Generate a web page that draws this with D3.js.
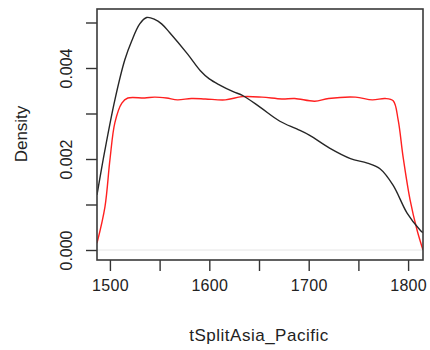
<!DOCTYPE html>
<html>
<head>
<meta charset="utf-8">
<script src="https://cdn.jsdelivr.net/npm/d3@7"></script>
<style>
  html, body { margin: 0; padding: 0; background: #ffffff; }
  svg { display: block; font-family: "Liberation Sans", Arial, sans-serif; }
</style>
</head>
<body>
<script>
// Density estimates for tSplitAsia_Pacific: posterior (black) and prior (red)
const posteriorX = [1487, 1495, 1505, 1515, 1522, 1530, 1537, 1545, 1552, 1560, 1578, 1591, 1600, 1611, 1624, 1634, 1651, 1671, 1688, 1701, 1721, 1742, 1759, 1772, 1785, 1799, 1812, 1815];
const posteriorY = [0.00121, 0.0022, 0.0033, 0.00418, 0.0046, 0.00497, 0.00511, 0.00507, 0.00497, 0.00478, 0.00431, 0.00394, 0.00376, 0.00362, 0.00348, 0.00339, 0.00314, 0.00283, 0.00266, 0.00252, 0.00224, 0.00201, 0.00191, 0.00178, 0.00142, 0.00081, 0.00044, 0.00038];

const priorX = [1487, 1495, 1500, 1505, 1512, 1518, 1535, 1545, 1557, 1568, 1582, 1596, 1616, 1633, 1653, 1673, 1686, 1706, 1720, 1747, 1764, 1777, 1785, 1790, 1795, 1802, 1809, 1815];
const priorY = [0.00015, 0.00095, 0.00198, 0.0028, 0.00323, 0.00334, 0.00334, 0.00336, 0.00334, 0.0033, 0.00333, 0.00332, 0.0033, 0.00337, 0.00336, 0.00332, 0.00333, 0.00327, 0.00333, 0.00336, 0.0033, 0.00333, 0.00328, 0.00286, 0.00204, 0.0011, 0.00044, 0.0];

const xTicks = [1500, 1550, 1600, 1650, 1700, 1750, 1800];
const xTickLabels = ["1500", "", "1600", "", "1700", "", "1800"];
const yTicks = [0, 0.001, 0.002, 0.003, 0.004, 0.005];
const yTickLabels = ["0.000", "", "0.002", "", "0.004", ""];
const xTitle = "tSplitAsia_Pacific";
const yTitle = "Density";

const W = 430, H = 350;
const box = { left: 97, right: 423, top: 9, bottom: 260 };

const svg = d3.select("body").append("svg")
  .attr("width", W).attr("height", H);
svg.append("rect").attr("width", W).attr("height", H).attr("fill", "#fff");

const x = d3.scaleLinear().domain([1487, 1815]).range([box.left, box.right]);
const y = d3.scaleLinear().domain([0, 0.005]).range([250, 22.5]);

// faint zero reference line
svg.append("line")
  .attr("x1", box.left).attr("x2", box.right)
  .attr("y1", y(0)).attr("y2", y(0))
  .attr("stroke", "#e6e6e6").attr("stroke-width", 1);

svg.append("clipPath").attr("id", "plotclip")
  .append("rect")
  .attr("x", box.left).attr("y", box.top)
  .attr("width", box.right - box.left).attr("height", box.bottom - box.top);

const line = d3.line()
  .x(d => x(d[0])).y(d => y(d[1]))
  .curve(d3.curveCatmullRom.alpha(0.5));

const g = svg.append("g").attr("clip-path", "url(#plotclip)");
g.append("path")
  .attr("d", line(priorX.map((v, i) => [v, priorY[i]])))
  .attr("fill", "none").attr("stroke", "#ff2020").attr("stroke-width", 1.4);
g.append("path")
  .attr("d", line(posteriorX.map((v, i) => [v, posteriorY[i]])))
  .attr("fill", "none").attr("stroke", "#262626").attr("stroke-width", 1.4);

// axes
const xAxis = d3.axisBottom(x).tickValues(xTicks)
  .tickSize(11).tickPadding(9)
  .tickFormat((d, i) => xTickLabels[i]);
const gx = svg.append("g").attr("transform", `translate(0,${box.bottom})`).call(xAxis);
gx.select(".domain").remove();
gx.selectAll("line").attr("stroke", "#333").attr("stroke-width", 1.4);
gx.selectAll("text").attr("fill", "#222").attr("font-size", 16)
  .attr("font-family", "Liberation Sans, Arial, sans-serif").attr("letter-spacing", 0.3);

const yAxis = d3.axisLeft(y).tickValues(yTicks)
  .tickSize(11).tickPadding(0)
  .tickFormat((d, i) => yTickLabels[i]);
const gy = svg.append("g").attr("transform", `translate(${box.left},0)`).call(yAxis);
gy.select(".domain").remove();
gy.selectAll("line").attr("stroke", "#333").attr("stroke-width", 1.4);
gy.selectAll("text")
  .attr("fill", "#222").attr("font-size", 16)
  .attr("font-family", "Liberation Sans, Arial, sans-serif")
  .attr("x", 0).attr("y", 0).attr("dy", null)
  .attr("text-anchor", "middle")
  .attr("transform", "translate(-25,0) rotate(-90)");

// plot frame
svg.append("rect")
  .attr("x", box.left).attr("y", box.top)
  .attr("width", box.right - box.left).attr("height", box.bottom - box.top)
  .attr("fill", "none").attr("stroke", "#3a3a3a").attr("stroke-width", 1.6);

// axis titles
svg.append("text")
  .attr("x", 259).attr("y", 341)
  .attr("text-anchor", "middle")
  .attr("font-size", 17).attr("letter-spacing", 0.5)
  .attr("fill", "#222")
  .text(xTitle);

svg.append("text")
  .attr("transform", "translate(26.5,134) rotate(-90)")
  .attr("text-anchor", "middle")
  .attr("font-size", 17)
  .attr("fill", "#222")
  .text(yTitle);
</script>
</body>
</html>
